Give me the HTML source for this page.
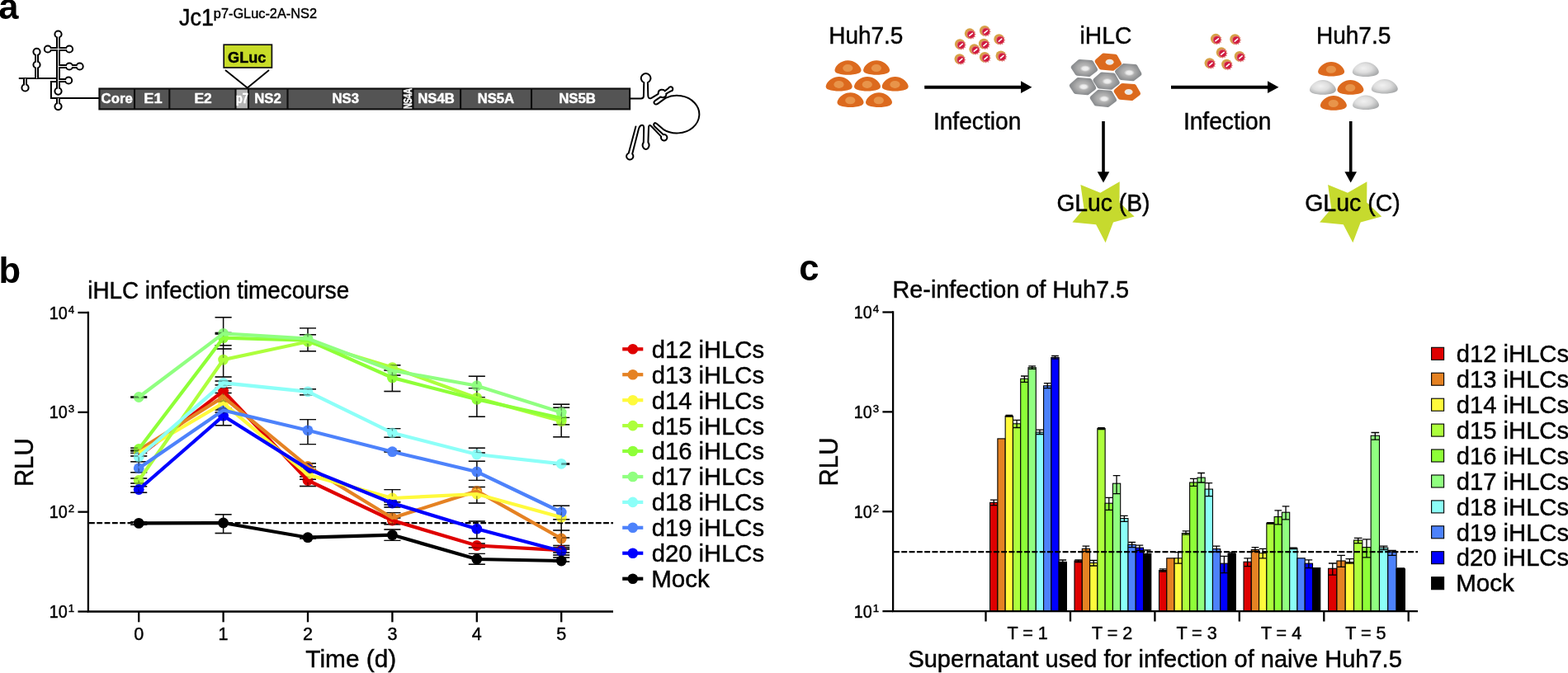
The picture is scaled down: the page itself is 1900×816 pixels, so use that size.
<!DOCTYPE html>
<html lang="en"><head><meta charset="utf-8"><title>Figure</title>
<style>html,body{margin:0;padding:0;background:#fff;overflow:hidden}svg{display:block}text{stroke:#000;stroke-width:0.45px}.w text,text.w{stroke:#fff}</style>
</head><body>
<svg width="1900" height="816" viewBox="0 0 1900 816" font-family='&quot;Liberation Sans&quot;, sans-serif'>
<defs>
<radialGradient id="gGray" cx="0.42" cy="0.42" r="0.62">
<stop offset="0" stop-color="#f1f1f1"/><stop offset="0.5" stop-color="#dedede"/><stop offset="1" stop-color="#a9abac"/>
</radialGradient>
<radialGradient id="gHex" gradientUnits="userSpaceOnUse" cx="0" cy="0" r="17" gradientTransform="scale(1,0.72)">
<stop offset="0" stop-color="#c4c4c4"/><stop offset="0.45" stop-color="#adadad"/><stop offset="0.8" stop-color="#8e9092"/><stop offset="1" stop-color="#84878a"/>
</radialGradient>
<radialGradient id="gNuc" cx="0.5" cy="0.5" r="0.5">
<stop offset="0" stop-color="#f2f2f2"/><stop offset="0.55" stop-color="#ececec" stop-opacity="0.95"/><stop offset="1" stop-color="#dcdcdc" stop-opacity="0"/>
</radialGradient>
<path id="dome" d="M0,-8.8 C7,-8.8 13.6,-4.2 15.6,1.2 C16.6,3.8 15.8,5.6 13,6.8 C9,8.3 4,8.8 0,8.8 C-4,8.8 -9,8.3 -13,6.8 C-15.8,5.6 -16.6,3.8 -15.6,1.2 C-13.6,-4.2 -7,-8.8 0,-8.8 Z"/>
<path id="hex" d="M-13.5,-0.9 L-5.6,-7.9 L8.6,-6.8 L13.5,1.9 L5.6,7.9 L-8.6,6.6 Z" stroke-width="5.4" stroke-linejoin="round"/>
<g id="ocell"><use href="#dome" fill="#dc6a1e"/><ellipse cx="-0.2" cy="0.6" rx="6.1" ry="4.5" fill="#e8944a"/></g>
<g id="gcell"><use href="#dome" fill="url(#gGray)"/></g>
<g id="ohex"><use href="#hex" fill="#dc6a1e" stroke="#dc6a1e"/><ellipse cx="1.8" cy="0" rx="5" ry="3.5" fill="#f6e6d6"/><ellipse cx="1.8" cy="0" rx="3.7" ry="2.4" fill="#e6e8ec"/></g>
<g id="ghex"><use href="#hex" fill="url(#gHex)" stroke="url(#gHex)"/><ellipse cx="1.2" cy="0.6" rx="6.6" ry="4" fill="url(#gNuc)"/></g>
<g id="vir"><circle cx="-0.6" cy="-0.5" r="6.3" fill="#d6a446"/><polygon points="7.2,0.7 5.2,1.8 6.4,3.8 4.0,3.8 4.1,6.2 2.0,5.0 0.9,7.0 -0.2,5.0 -2.2,6.2 -2.2,3.8 -4.6,3.8 -3.4,1.8 -5.4,0.7 -3.4,-0.4 -4.6,-2.4 -2.2,-2.4 -2.3,-4.8 -0.2,-3.6 0.9,-5.6 2.0,-3.6 4.1,-4.8 4.0,-2.4 6.4,-2.5 5.2,-0.4" fill="#df6f74"/><circle cx="0.9" cy="0.7" r="4.1" fill="#d01a40"/><path d="M-0.9,2.1 L2.6,-0.8" stroke="#fff" stroke-width="1.6" stroke-linecap="round"/></g>
</defs>
<rect width="1900" height="816" fill="#fff"/>
<g font-weight="bold" font-size="43.5px" fill="#000" style="stroke-width:0">
<text x="-1.8" y="23.3" style="stroke-width:0">a</text><text x="-1.6" y="343.3" style="stroke-width:0">b</text><text x="968.2" y="339.7" style="stroke-width:0">c</text></g>
<g id="genome">
<text x="216.98" y="31.0" font-size="29.0px" textLength="41.94" lengthAdjust="spacingAndGlyphs">Jc1</text>
<text x="258.85" y="21.7" font-size="17.0px" textLength="125.17" lengthAdjust="spacingAndGlyphs">p7-GLuc-2A-NS2</text>
<g>
<path d="M22.8,95.1 H70.3 M61.9,98 V119 H120 M60.9,99 H70 " fill="none" stroke="#000" stroke-width="2"/>
<path d="M70.5,41.5 V110.6 M70.5,119 V129.1 M57.9,59.5 H84 M70.5,80.5 H96.6 M70.5,97.5 H83.1 M44.5,62.8 V95.1 M30.5,95.1 V106.4" fill="none" stroke="#000" stroke-width="5"/>
<circle cx="70.5" cy="41.5" r="4.1" fill="#fff" stroke="#000" stroke-width="2"/>
<circle cx="57.9" cy="59.5" r="4.1" fill="#fff" stroke="#000" stroke-width="2"/>
<circle cx="84" cy="59.5" r="4.1" fill="#fff" stroke="#000" stroke-width="2"/>
<circle cx="84" cy="80.5" r="4.1" fill="#fff" stroke="#000" stroke-width="2"/>
<circle cx="96.6" cy="80.5" r="4.1" fill="#fff" stroke="#000" stroke-width="2"/>
<circle cx="83.1" cy="97.5" r="4.1" fill="#fff" stroke="#000" stroke-width="2"/>
<circle cx="44.5" cy="62.8" r="4.1" fill="#fff" stroke="#000" stroke-width="2"/>
<circle cx="44.5" cy="78.5" r="4.1" fill="#fff" stroke="#000" stroke-width="2"/>
<circle cx="30.5" cy="106.4" r="4.1" fill="#fff" stroke="#000" stroke-width="2"/>
<circle cx="70.5" cy="110.6" r="4.1" fill="#fff" stroke="#000" stroke-width="2"/>
<circle cx="70.5" cy="129.1" r="4.1" fill="#fff" stroke="#000" stroke-width="2"/>
<path d="M70.5,41.5 V110.6 M70.5,119 V129.1 M57.9,59.5 H84 M70.5,80.5 H96.6 M70.5,97.5 H83.1 M44.5,62.8 V95.1 M30.5,95.1 V106.4" fill="none" stroke="#fff" stroke-width="1"/>
</g>
<rect x="120.4" y="107.5" width="642.7" height="24.900000000000006" fill="#545454"/>
<rect x="285.5" y="107.5" width="15.5" height="24.900000000000006" fill="#b4b4b4"/>
<rect x="488.4" y="107.5" width="12.1" height="24.900000000000006" fill="#2a2a2a"/>
<g fill="none" stroke="#0c0c0c" stroke-width="2.1">
<rect x="120.4" y="107.5" width="642.7" height="24.900000000000006"/>
<path d="M163.0,107.5 V132.4 M205.3,107.5 V132.4 M285.5,107.5 V132.4 M301.0,107.5 V132.4 M348.5,107.5 V132.4 M488.4,107.5 V132.4 M500.5,107.5 V132.4 M558.1,107.5 V132.4 M644.0,107.5 V132.4"/>
</g>
<g fill="#fff" class="w">
<text x="122.61" y="125.0" font-size="17.4px" textLength="38.16" lengthAdjust="spacingAndGlyphs" font-weight="bold">Core</text>
<text x="174.28" y="125.0" font-size="17.4px" textLength="22.22" lengthAdjust="spacingAndGlyphs" font-weight="bold">E1</text>
<text x="235.44" y="125.0" font-size="17.4px" textLength="21.26" lengthAdjust="spacingAndGlyphs" font-weight="bold">E2</text>
<text x="286.06" y="125.0" font-size="17.4px" textLength="14.79" lengthAdjust="spacingAndGlyphs" font-weight="bold">p7</text>
<text x="308.28" y="125.0" font-size="17.4px" textLength="32.49" lengthAdjust="spacingAndGlyphs" font-weight="bold">NS2</text>
<text x="402.48" y="125.0" font-size="17.4px" textLength="32.52" lengthAdjust="spacingAndGlyphs" font-weight="bold">NS3</text>
<text x="506.28" y="125.0" font-size="17.4px" textLength="44.47" lengthAdjust="spacingAndGlyphs" font-weight="bold">NS4B</text>
<text x="578.69" y="125.0" font-size="17.4px" textLength="44.35" lengthAdjust="spacingAndGlyphs" font-weight="bold">NS5A</text>
<text x="677.28" y="125.0" font-size="17.4px" textLength="44.68" lengthAdjust="spacingAndGlyphs" font-weight="bold">NS5B</text>
</g>
<text transform="translate(499.4,132.0) rotate(-90)" class="w" font-weight="bold" font-size="14.2px" fill="#fff" textLength="25" lengthAdjust="spacingAndGlyphs">NS4A</text>
<path d="M273,85 L299.8,106.6 L326,85" fill="none" stroke="#000" stroke-width="1.9"/>
<rect x="271.2" y="54.2" width="58.2" height="27.8" fill="#c8dc28" stroke="#111" stroke-width="1.7"/>
<text x="276.06" y="75.9" font-size="19.0px" textLength="46.27" lengthAdjust="spacingAndGlyphs" font-weight="bold">GLuc</text>
<path d="M764,119.5 H776.6 Q779.9,119.5 779.9,116.4 L780.3,100.2 A5.8,5.8 0 1 1 784.9,100.2 L785.3,116 Q785.5,120.6 789.4,118.8 L797.6,113.8 Q797.4,109.6 801,108.8 Q804.6,108.2 805.6,110.4 L810,107 A2.7,2.7 0 1 1 812.6,110.6 L807.2,113.6 Q808,116.6 805,117.8 Q802.4,118.8 800.6,117.4 L794.4,121.6 Q791.4,123.8 793,125.6 Q794.8,127.4 797.6,125.4 L806.5,118.9 A27.2,22.8 0 1 1 803.7,156.8 L796.4,150.4 Q794,148.2 792.6,149.8 Q791.4,151.4 793.4,153.6 L803.8,163.2 A3.7,3.7 0 1 1 801.2,165.6 L789.2,153 Q786.6,150.6 786,154 L785.4,172.6 A3.8,5 0 1 1 779.8,172.6 L780.2,154.6 Q779.8,150.8 776.8,152 Q774.8,153 774,156 L766.2,186.6 A4.1,4.1 0 1 1 761.8,185.6 L770.4,153.5" fill="none" stroke="#000" stroke-width="2" stroke-linejoin="round" stroke-linecap="round"/>
</g>
<g id="scheme" font-size="28px">
<text x="1004.31" y="52.8" font-size="29.4px" textLength="90.06" lengthAdjust="spacingAndGlyphs">Huh7.5</text>
<text x="1308.61" y="52.8" font-size="29.4px" textLength="62.66" lengthAdjust="spacingAndGlyphs">iHLC</text>
<text x="1594.90" y="52.8" font-size="29.4px" textLength="90.48" lengthAdjust="spacingAndGlyphs">Huh7.5</text>
<text x="1130.90" y="157.0" font-size="29.4px" textLength="106.43" lengthAdjust="spacingAndGlyphs">Infection</text>
<text x="1433.90" y="157.0" font-size="29.4px" textLength="106.43" lengthAdjust="spacingAndGlyphs">Infection</text>
<use href="#ocell" x="1027.5" y="82"/>
<use href="#ocell" x="1062.1" y="82"/>
<use href="#ocell" x="1016.7" y="101.8"/>
<use href="#ocell" x="1051" y="101.8"/>
<use href="#ocell" x="1084.7" y="101.8"/>
<use href="#ocell" x="1030.5" y="121.1"/>
<use href="#ocell" x="1065" y="121.1"/>
<use href="#ocell" x="1613.1" y="83.7"/>
<use href="#gcell" x="1654.8" y="84.1"/>
<use href="#gcell" x="1602.9" y="105.9"/>
<use href="#ocell" x="1636.4" y="105.9"/>
<use href="#gcell" x="1677.8" y="104.8"/>
<use href="#ocell" x="1615.9" y="124.9"/>
<use href="#gcell" x="1655" y="124.3"/>
<use href="#ghex" x="1313.9" y="82.5"/>
<use href="#ghex" x="1367.2" y="87.6"/>
<use href="#ghex" x="1312" y="104.6"/>
<use href="#ghex" x="1336.9" y="119.3"/>
<use href="#ghex" x="1340.6" y="98.1"/>
<use href="#ohex" x="1342.8" y="75.2"/>
<use href="#ohex" x="1365.8" y="111.5"/>
<use href="#vir" x="1175.7" y="41.1"/>
<use href="#vir" x="1193.8" y="37.8"/>
<use href="#vir" x="1211.2" y="48"/>
<use href="#vir" x="1163.8" y="54"/>
<use href="#vir" x="1181.2" y="60.1"/>
<use href="#vir" x="1192.8" y="53.5"/>
<use href="#vir" x="1163.4" y="72"/>
<use href="#vir" x="1193.8" y="69.7"/>
<use href="#vir" x="1213.4" y="68.2"/>
<use href="#vir" x="1473.8" y="47.6"/>
<use href="#vir" x="1497.1" y="48"/>
<use href="#vir" x="1480.6" y="64.1"/>
<use href="#vir" x="1502.6" y="68.7"/>
<use href="#vir" x="1466.4" y="77"/>
<use href="#vir" x="1487" y="78.5"/>
<path d="M1120.2,105.7 H1238" stroke="#000" stroke-width="4" fill="none"/><path d="M1237,98.3 L1250.4,105.7 L1237,113.1 Z" fill="#000"/>
<path d="M1419,105.7 H1537" stroke="#000" stroke-width="4" fill="none"/><path d="M1536,98.3 L1549.4,105.7 L1536,113.1 Z" fill="#000"/>
<path d="M1337,147 V209" stroke="#000" stroke-width="3.6" fill="none"/><path d="M1329.7,208.3 L1344.3,208.3 L1337,221.4 Z" fill="#000"/>
<path d="M1636.7,147 V209" stroke="#000" stroke-width="3.6" fill="none"/><path d="M1629.4,208.3 L1644,208.3 L1636.7,221.4 Z" fill="#000"/>
<polygon points="1309.4,224 1333.3,233.8 1356.7,220.2 1356.5,245.5 1374.6,262.5 1349,269.6 1339.6,294.2 1328.1,272.3 1299.4,269.6 1313.5,253" fill="#c6da2e"/>
<polygon points="1609.1,224 1633.0,233.8 1656.4,220.2 1656.2,245.5 1674.3,262.5 1648.7,269.6 1639.3,294.2 1627.8,272.3 1599.1,269.6 1613.2,253" fill="#c6da2e"/>
<text x="1280.38" y="256.3" font-size="29.4px" textLength="113.07" lengthAdjust="spacingAndGlyphs">GLuc (B)</text>
<text x="1581.17" y="256.3" font-size="29.4px" textLength="115.60" lengthAdjust="spacingAndGlyphs">GLuc (C)</text>
</g>
<g id="panelb">
<text x="106.34" y="362.0" font-size="29.4px" textLength="316.90" lengthAdjust="spacingAndGlyphs">iHLC infection timecourse</text>
<text transform="translate(39.8,590.11) rotate(-90)" font-size="30.6px" textLength="58.78" lengthAdjust="spacingAndGlyphs">RLU</text>
<text x="370.34" y="809.0" font-size="30.2px" textLength="109.89" lengthAdjust="spacingAndGlyphs">Time (d)</text>
<g stroke="#000" stroke-width="2.3" fill="none">
<path d="M106.9,377.85 V741.5 H743"/>
<path d="M94.4,379.0 H106.9"/>
<path d="M94.4,499.83 H106.9"/>
<path d="M94.4,620.67 H106.9"/>
<path d="M94.4,741.5 H106.9"/>
<path d="M168.2,741.5 V754.3"/>
<path d="M270.6,741.5 V754.3"/>
<path d="M373.0,741.5 V754.3"/>
<path d="M475.4,741.5 V754.3"/>
<path d="M577.8,741.5 V754.3"/>
<path d="M680.2,741.5 V754.3"/>
</g>
<text x="59.70" y="386.6" font-size="22.0px" textLength="21.98" lengthAdjust="spacingAndGlyphs">10</text>
<text x="82.69999999999999" y="379.6" font-size="13.2px">4</text>
<text x="59.70" y="507.4" font-size="22.0px" textLength="21.98" lengthAdjust="spacingAndGlyphs">10</text>
<text x="82.69999999999999" y="500.4" font-size="13.2px">3</text>
<text x="59.70" y="628.3" font-size="22.0px" textLength="21.98" lengthAdjust="spacingAndGlyphs">10</text>
<text x="82.69999999999999" y="621.3" font-size="13.2px">2</text>
<text x="59.70" y="749.1" font-size="22.0px" textLength="21.98" lengthAdjust="spacingAndGlyphs">10</text>
<text x="82.69999999999999" y="742.1" font-size="13.2px">1</text>
<g font-size="21.5px" text-anchor="middle">
<text x="168.2" y="775.9">0</text>
<text x="270.6" y="775.9">1</text>
<text x="373.0" y="775.9">2</text>
<text x="475.4" y="775.9">3</text>
<text x="577.8" y="775.9">4</text>
<text x="680.2" y="775.9">5</text>
</g>
<path d="M108,634.1 H743" stroke="#000" stroke-width="2.1" stroke-dasharray="6.8 2.5" fill="none"/>
<path d="M168.2,545.7 V559.7 M158.2,545.7 H178.2 M158.2,559.7 H178.2 M270.6,470.4 V476.5 M260.6,470.4 H280.6 M260.6,476.5 H280.6 M373.0,581.2 V589.5 M363.0,581.2 H383.0 M363.0,589.5 H383.0 M475.4,628 V635.8 M465.4,628 H485.4 M465.4,635.8 H485.4 M577.8,659 V664 M567.8,659 H587.8 M567.8,664 H587.8 M680.2,661.5 V673 M670.2,661.5 H690.2 M670.2,673 H690.2 M168.2,543.3 V549.4 M158.2,543.3 H178.2 M158.2,549.4 H178.2 M270.6,476.5 V487 M260.6,476.5 H280.6 M260.6,487 H280.6 M373.0,561.7 V569 M363.0,561.7 H383.0 M363.0,569 H383.0 M475.4,621.6 V635.8 M465.4,621.6 H485.4 M465.4,635.8 H485.4 M577.8,590.5 V600 M567.8,590.5 H587.8 M567.8,600 H587.8 M680.2,643 V666 M670.2,643 H690.2 M670.2,666 H690.2 M168.2,545.7 V553 M158.2,545.7 H178.2 M158.2,553 H178.2 M270.6,486 V495 M260.6,486 H280.6 M260.6,495 H280.6 M373.0,573 V578 M363.0,573 H383.0 M363.0,578 H383.0 M475.4,593.6 V615 M465.4,593.6 H485.4 M465.4,615 H485.4 M577.8,590.5 V610 M567.8,590.5 H587.8 M567.8,610 H587.8 M680.2,613.3 V652 M670.2,613.3 H690.2 M670.2,652 H690.2 M168.2,580 V586 M158.2,580 H178.2 M158.2,586 H178.2 M270.6,384.7 V457 M260.6,384.7 H280.6 M260.6,457 H280.6 M373.0,405.7 V425.8 M363.0,405.7 H383.0 M363.0,425.8 H383.0 M475.4,442.7 V449 M465.4,442.7 H485.4 M465.4,449 H485.4 M577.8,470.6 V505.2 M567.8,470.6 H587.8 M567.8,505.2 H587.8 M680.2,506.4 V514.7 M670.2,506.4 H690.2 M670.2,514.7 H690.2 M168.2,543.3 V547 M158.2,543.3 H178.2 M158.2,547 H178.2 M270.6,405 V418.7 M260.6,405 H280.6 M260.6,418.7 H280.6 M373.0,397.9 V425.8 M363.0,397.9 H383.0 M363.0,425.8 H383.0 M475.4,442.7 V474.5 M465.4,442.7 H485.4 M465.4,474.5 H485.4 M577.8,470.6 V505.2 M567.8,470.6 H587.8 M567.8,505.2 H587.8 M680.2,494.2 V529.7 M670.2,494.2 H690.2 M670.2,529.7 H690.2 M168.2,481 V482 M158.2,481 H178.2 M158.2,482 H178.2 M270.6,403.5 V423 M260.6,403.5 H280.6 M260.6,423 H280.6 M373.0,405.7 V416 M363.0,405.7 H383.0 M363.0,416 H383.0 M475.4,442.7 V455 M465.4,442.7 H485.4 M465.4,455 H485.4 M577.8,456.2 V481.6 M567.8,456.2 H587.8 M567.8,481.6 H587.8 M680.2,490.2 V514.7 M670.2,490.2 H690.2 M670.2,514.7 H690.2 M168.2,549.4 V559.7 M158.2,549.4 H178.2 M158.2,559.7 H178.2 M270.6,462 V466.7 M260.6,462 H280.6 M260.6,466.7 H280.6 M373.0,471.8 V478.7 M363.0,471.8 H383.0 M363.0,478.7 H383.0 M475.4,519.6 V530.2 M465.4,519.6 H485.4 M465.4,530.2 H485.4 M577.8,543.2 V549 M567.8,543.2 H587.8 M567.8,549 H587.8 M680.2,562 V563 M670.2,562 H690.2 M670.2,563 H690.2 M168.2,559.7 V572.7 M158.2,559.7 H178.2 M158.2,572.7 H178.2 M270.6,495 V500 M260.6,495 H280.6 M260.6,500 H280.6 M373.0,508.6 V538.6 M363.0,508.6 H383.0 M363.0,538.6 H383.0 M475.4,547 V548 M465.4,547 H485.4 M465.4,548 H485.4 M577.8,559.3 V582.4 M567.8,559.3 H587.8 M567.8,582.4 H587.8 M680.2,613.3 V629.7 M670.2,613.3 H690.2 M670.2,629.7 H690.2 M168.2,589.8 V597.2 M158.2,589.8 H178.2 M158.2,597.2 H178.2 M270.6,497 V515.7 M260.6,497 H280.6 M260.6,515.7 H280.6 M373.0,566 V571 M363.0,566 H383.0 M363.0,571 H383.0 M475.4,608.8 V612 M465.4,608.8 H485.4 M465.4,612 H485.4 M577.8,632 V653 M567.8,632 H587.8 M567.8,653 H587.8 M680.2,664 V670 M670.2,664 H690.2 M670.2,670 H690.2 M168.2,632.7 V636.3 M158.2,632.7 H178.2 M158.2,636.3 H178.2 M270.6,623.7 V646.5 M260.6,623.7 H280.6 M260.6,646.5 H280.6 M373.0,650.5 V653 M363.0,650.5 H383.0 M363.0,653 H383.0 M475.4,642 V655.4 M465.4,642 H485.4 M465.4,655.4 H485.4 M577.8,671.4 V684.3 M567.8,671.4 H587.8 M567.8,684.3 H587.8 M680.2,676 V681 M670.2,676 H690.2 M670.2,681 H690.2" fill="none" stroke="#111" stroke-width="1.4"/>
<g>
<circle cx="168.2" cy="553" r="6.4" fill="#df0000"/>
<circle cx="270.6" cy="474.1" r="6.4" fill="#df0000"/>
<circle cx="373.0" cy="582.5" r="6.4" fill="#df0000"/>
<circle cx="475.4" cy="631" r="6.4" fill="#df0000"/>
<circle cx="577.8" cy="661.5" r="6.4" fill="#df0000"/>
<circle cx="680.2" cy="667.2" r="6.4" fill="#df0000"/>
<circle cx="168.2" cy="545.7" r="6.4" fill="#e58223"/>
<circle cx="270.6" cy="481.4" r="6.4" fill="#e58223"/>
<circle cx="373.0" cy="565.5" r="6.4" fill="#e58223"/>
<circle cx="475.4" cy="628" r="6.4" fill="#e58223"/>
<circle cx="577.8" cy="595.4" r="6.4" fill="#e58223"/>
<circle cx="680.2" cy="653" r="6.4" fill="#e58223"/>
<circle cx="168.2" cy="549" r="6.4" fill="#fffa3c"/>
<circle cx="270.6" cy="488.8" r="6.4" fill="#fffa3c"/>
<circle cx="373.0" cy="575.5" r="6.4" fill="#fffa3c"/>
<circle cx="475.4" cy="604" r="6.4" fill="#fffa3c"/>
<circle cx="577.8" cy="599" r="6.4" fill="#fffa3c"/>
<circle cx="680.2" cy="627.2" r="6.4" fill="#fffa3c"/>
<circle cx="168.2" cy="582.5" r="6.4" fill="#adff3c"/>
<circle cx="270.6" cy="436.1" r="6.4" fill="#adff3c"/>
<circle cx="373.0" cy="414.3" r="6.4" fill="#adff3c"/>
<circle cx="475.4" cy="445.6" r="6.4" fill="#adff3c"/>
<circle cx="577.8" cy="482.4" r="6.4" fill="#adff3c"/>
<circle cx="680.2" cy="510.6" r="6.4" fill="#adff3c"/>
<circle cx="168.2" cy="544.5" r="6.4" fill="#8eff38"/>
<circle cx="270.6" cy="409.7" r="6.4" fill="#8eff38"/>
<circle cx="373.0" cy="412.6" r="6.4" fill="#8eff38"/>
<circle cx="475.4" cy="457.9" r="6.4" fill="#8eff38"/>
<circle cx="577.8" cy="484.3" r="6.4" fill="#8eff38"/>
<circle cx="680.2" cy="507" r="6.4" fill="#8eff38"/>
<circle cx="168.2" cy="481.5" r="6.4" fill="#90ff80"/>
<circle cx="270.6" cy="404.3" r="6.4" fill="#90ff80"/>
<circle cx="373.0" cy="410.6" r="6.4" fill="#90ff80"/>
<circle cx="475.4" cy="449.3" r="6.4" fill="#90ff80"/>
<circle cx="577.8" cy="467.7" r="6.4" fill="#90ff80"/>
<circle cx="680.2" cy="500" r="6.4" fill="#90ff80"/>
<circle cx="168.2" cy="554" r="6.4" fill="#8cfff8"/>
<circle cx="270.6" cy="464.3" r="6.4" fill="#8cfff8"/>
<circle cx="373.0" cy="474.8" r="6.4" fill="#8cfff8"/>
<circle cx="475.4" cy="524.8" r="6.4" fill="#8cfff8"/>
<circle cx="577.8" cy="551" r="6.4" fill="#8cfff8"/>
<circle cx="680.2" cy="562.3" r="6.4" fill="#8cfff8"/>
<circle cx="168.2" cy="567.8" r="6.4" fill="#4d82fb"/>
<circle cx="270.6" cy="497.4" r="6.4" fill="#4d82fb"/>
<circle cx="373.0" cy="521.8" r="6.4" fill="#4d82fb"/>
<circle cx="475.4" cy="547.7" r="6.4" fill="#4d82fb"/>
<circle cx="577.8" cy="572" r="6.4" fill="#4d82fb"/>
<circle cx="680.2" cy="621" r="6.4" fill="#4d82fb"/>
<circle cx="168.2" cy="593.5" r="6.4" fill="#0000ff"/>
<circle cx="270.6" cy="504.2" r="6.4" fill="#0000ff"/>
<circle cx="373.0" cy="568.6" r="6.4" fill="#0000ff"/>
<circle cx="475.4" cy="610" r="6.4" fill="#0000ff"/>
<circle cx="577.8" cy="641.2" r="6.4" fill="#0000ff"/>
<circle cx="680.2" cy="668.2" r="6.4" fill="#0000ff"/>
<circle cx="168.2" cy="634.4" r="6.4" fill="#000000"/>
<circle cx="270.6" cy="634" r="6.4" fill="#000000"/>
<circle cx="373.0" cy="651.7" r="6.4" fill="#000000"/>
<circle cx="475.4" cy="648.6" r="6.4" fill="#000000"/>
<circle cx="577.8" cy="678" r="6.4" fill="#000000"/>
<circle cx="680.2" cy="680" r="6.4" fill="#000000"/>
</g>
<path d="M168.2,545.7 V559.7 M158.2,545.7 H178.2 M158.2,559.7 H178.2 M270.6,470.4 V476.5 M260.6,470.4 H280.6 M260.6,476.5 H280.6 M373.0,581.2 V589.5 M363.0,581.2 H383.0 M363.0,589.5 H383.0 M475.4,628 V635.8 M465.4,628 H485.4 M465.4,635.8 H485.4 M577.8,659 V664 M567.8,659 H587.8 M567.8,664 H587.8 M680.2,661.5 V673 M670.2,661.5 H690.2 M670.2,673 H690.2 M168.2,543.3 V549.4 M158.2,543.3 H178.2 M158.2,549.4 H178.2 M270.6,476.5 V487 M260.6,476.5 H280.6 M260.6,487 H280.6 M373.0,561.7 V569 M363.0,561.7 H383.0 M363.0,569 H383.0 M475.4,621.6 V635.8 M465.4,621.6 H485.4 M465.4,635.8 H485.4 M577.8,590.5 V600 M567.8,590.5 H587.8 M567.8,600 H587.8 M680.2,643 V666 M670.2,643 H690.2 M670.2,666 H690.2 M168.2,545.7 V553 M158.2,545.7 H178.2 M158.2,553 H178.2 M270.6,486 V495 M260.6,486 H280.6 M260.6,495 H280.6 M373.0,573 V578 M363.0,573 H383.0 M363.0,578 H383.0 M475.4,593.6 V615 M465.4,593.6 H485.4 M465.4,615 H485.4 M577.8,590.5 V610 M567.8,590.5 H587.8 M567.8,610 H587.8 M680.2,613.3 V652 M670.2,613.3 H690.2 M670.2,652 H690.2 M168.2,580 V586 M158.2,580 H178.2 M158.2,586 H178.2 M270.6,384.7 V457 M260.6,384.7 H280.6 M260.6,457 H280.6 M373.0,405.7 V425.8 M363.0,405.7 H383.0 M363.0,425.8 H383.0 M475.4,442.7 V449 M465.4,442.7 H485.4 M465.4,449 H485.4 M577.8,470.6 V505.2 M567.8,470.6 H587.8 M567.8,505.2 H587.8 M680.2,506.4 V514.7 M670.2,506.4 H690.2 M670.2,514.7 H690.2 M168.2,543.3 V547 M158.2,543.3 H178.2 M158.2,547 H178.2 M270.6,405 V418.7 M260.6,405 H280.6 M260.6,418.7 H280.6 M373.0,397.9 V425.8 M363.0,397.9 H383.0 M363.0,425.8 H383.0 M475.4,442.7 V474.5 M465.4,442.7 H485.4 M465.4,474.5 H485.4 M577.8,470.6 V505.2 M567.8,470.6 H587.8 M567.8,505.2 H587.8 M680.2,494.2 V529.7 M670.2,494.2 H690.2 M670.2,529.7 H690.2 M168.2,481 V482 M158.2,481 H178.2 M158.2,482 H178.2 M270.6,403.5 V423 M260.6,403.5 H280.6 M260.6,423 H280.6 M373.0,405.7 V416 M363.0,405.7 H383.0 M363.0,416 H383.0 M475.4,442.7 V455 M465.4,442.7 H485.4 M465.4,455 H485.4 M577.8,456.2 V481.6 M567.8,456.2 H587.8 M567.8,481.6 H587.8 M680.2,490.2 V514.7 M670.2,490.2 H690.2 M670.2,514.7 H690.2 M168.2,549.4 V559.7 M158.2,549.4 H178.2 M158.2,559.7 H178.2 M270.6,462 V466.7 M260.6,462 H280.6 M260.6,466.7 H280.6 M373.0,471.8 V478.7 M363.0,471.8 H383.0 M363.0,478.7 H383.0 M475.4,519.6 V530.2 M465.4,519.6 H485.4 M465.4,530.2 H485.4 M577.8,543.2 V549 M567.8,543.2 H587.8 M567.8,549 H587.8 M680.2,562 V563 M670.2,562 H690.2 M670.2,563 H690.2 M168.2,559.7 V572.7 M158.2,559.7 H178.2 M158.2,572.7 H178.2 M270.6,495 V500 M260.6,495 H280.6 M260.6,500 H280.6 M373.0,508.6 V538.6 M363.0,508.6 H383.0 M363.0,538.6 H383.0 M475.4,547 V548 M465.4,547 H485.4 M465.4,548 H485.4 M577.8,559.3 V582.4 M567.8,559.3 H587.8 M567.8,582.4 H587.8 M680.2,613.3 V629.7 M670.2,613.3 H690.2 M670.2,629.7 H690.2 M168.2,589.8 V597.2 M158.2,589.8 H178.2 M158.2,597.2 H178.2 M270.6,497 V515.7 M260.6,497 H280.6 M260.6,515.7 H280.6 M373.0,566 V571 M363.0,566 H383.0 M363.0,571 H383.0 M475.4,608.8 V612 M465.4,608.8 H485.4 M465.4,612 H485.4 M577.8,632 V653 M567.8,632 H587.8 M567.8,653 H587.8 M680.2,664 V670 M670.2,664 H690.2 M670.2,670 H690.2 M168.2,632.7 V636.3 M158.2,632.7 H178.2 M158.2,636.3 H178.2 M270.6,623.7 V646.5 M260.6,623.7 H280.6 M260.6,646.5 H280.6 M373.0,650.5 V653 M363.0,650.5 H383.0 M363.0,653 H383.0 M475.4,642 V655.4 M465.4,642 H485.4 M465.4,655.4 H485.4 M577.8,671.4 V684.3 M567.8,671.4 H587.8 M567.8,684.3 H587.8 M680.2,676 V681 M670.2,676 H690.2 M670.2,681 H690.2" fill="none" stroke="#000" stroke-width="1.4" opacity="0.4"/>
<g fill="none" stroke-width="4.2" stroke-linejoin="miter">
<polyline points="168.2,553 270.6,474.1 373.0,582.5 475.4,631 577.8,661.5 680.2,667.2" stroke="#df0000"/>
<polyline points="168.2,545.7 270.6,481.4 373.0,565.5 475.4,628 577.8,595.4 680.2,653" stroke="#e58223"/>
<polyline points="168.2,549 270.6,488.8 373.0,575.5 475.4,604 577.8,599 680.2,627.2" stroke="#fffa3c"/>
<polyline points="168.2,582.5 270.6,436.1 373.0,414.3 475.4,445.6 577.8,482.4 680.2,510.6" stroke="#adff3c"/>
<polyline points="168.2,544.5 270.6,409.7 373.0,412.6 475.4,457.9 577.8,484.3 680.2,507" stroke="#8eff38"/>
<polyline points="168.2,481.5 270.6,404.3 373.0,410.6 475.4,449.3 577.8,467.7 680.2,500" stroke="#90ff80"/>
<polyline points="168.2,554 270.6,464.3 373.0,474.8 475.4,524.8 577.8,551 680.2,562.3" stroke="#8cfff8"/>
<polyline points="168.2,567.8 270.6,497.4 373.0,521.8 475.4,547.7 577.8,572 680.2,621" stroke="#4d82fb"/>
<polyline points="168.2,593.5 270.6,504.2 373.0,568.6 475.4,610 577.8,641.2 680.2,668.2" stroke="#0000ff"/>
<polyline points="168.2,634.4 270.6,634 373.0,651.7 475.4,648.6 577.8,678 680.2,680" stroke="#000000"/>
</g>
<g font-size="28.6px">
<path d="M754.2,423.3 H779.3" stroke="#df0000" stroke-width="4.2"/><circle cx="766.8" cy="423.3" r="6.3" fill="#df0000"/>
<text x="789.77" y="433.7" font-size="29.4px" textLength="136.28" lengthAdjust="spacingAndGlyphs">d12 iHLCs</text>
<path d="M754.2,454.2 H779.3" stroke="#e58223" stroke-width="4.2"/><circle cx="766.8" cy="454.2" r="6.3" fill="#e58223"/>
<text x="789.77" y="464.6" font-size="29.4px" textLength="136.28" lengthAdjust="spacingAndGlyphs">d13 iHLCs</text>
<path d="M754.2,485.2 H779.3" stroke="#fffa3c" stroke-width="4.2"/><circle cx="766.8" cy="485.2" r="6.3" fill="#fffa3c"/>
<text x="789.77" y="495.6" font-size="29.4px" textLength="136.28" lengthAdjust="spacingAndGlyphs">d14 iHLCs</text>
<path d="M754.2,516.1 H779.3" stroke="#adff3c" stroke-width="4.2"/><circle cx="766.8" cy="516.1" r="6.3" fill="#adff3c"/>
<text x="789.77" y="526.5" font-size="29.4px" textLength="136.28" lengthAdjust="spacingAndGlyphs">d15 iHLCs</text>
<path d="M754.2,547.0 H779.3" stroke="#8eff38" stroke-width="4.2"/><circle cx="766.8" cy="547.0" r="6.3" fill="#8eff38"/>
<text x="789.77" y="557.4" font-size="29.4px" textLength="136.28" lengthAdjust="spacingAndGlyphs">d16 iHLCs</text>
<path d="M754.2,578.0 H779.3" stroke="#90ff80" stroke-width="4.2"/><circle cx="766.8" cy="578.0" r="6.3" fill="#90ff80"/>
<text x="789.77" y="588.4" font-size="29.4px" textLength="136.28" lengthAdjust="spacingAndGlyphs">d17 iHLCs</text>
<path d="M754.2,608.9 H779.3" stroke="#8cfff8" stroke-width="4.2"/><circle cx="766.8" cy="608.9" r="6.3" fill="#8cfff8"/>
<text x="789.77" y="619.3" font-size="29.4px" textLength="136.28" lengthAdjust="spacingAndGlyphs">d18 iHLCs</text>
<path d="M754.2,639.8 H779.3" stroke="#4d82fb" stroke-width="4.2"/><circle cx="766.8" cy="639.8" r="6.3" fill="#4d82fb"/>
<text x="789.77" y="650.2" font-size="29.4px" textLength="136.28" lengthAdjust="spacingAndGlyphs">d19 iHLCs</text>
<path d="M754.2,670.7 H779.3" stroke="#0000ff" stroke-width="4.2"/><circle cx="766.8" cy="670.7" r="6.3" fill="#0000ff"/>
<text x="789.77" y="681.1" font-size="29.4px" textLength="136.28" lengthAdjust="spacingAndGlyphs">d20 iHLCs</text>
<path d="M754.2,701.7 H779.3" stroke="#000000" stroke-width="4.2"/><circle cx="766.8" cy="701.7" r="6.3" fill="#000000"/>
<text x="789.18" y="712.1" font-size="29.4px" textLength="70.58" lengthAdjust="spacingAndGlyphs">Mock</text>
</g>
</g>
<g id="panelc">
<text x="1081.54" y="361.1" font-size="29.4px" textLength="286.47" lengthAdjust="spacingAndGlyphs">Re-infection of Huh7.5</text>
<text transform="translate(1015.4,589.41) rotate(-90)" font-size="30.6px" textLength="58.78" lengthAdjust="spacingAndGlyphs">RLU</text>
<text x="1100.38" y="808.6" font-size="29.4px" textLength="598.44" lengthAdjust="spacingAndGlyphs">Supernatant used for infection of naive Huh7.5</text>
<g font-size="21.5px" text-anchor="middle">
<text x="1245.2" y="774.7">T = 1</text>
<text x="1347.6" y="774.7">T = 2</text>
<text x="1450.0" y="774.7">T = 3</text>
<text x="1552.5" y="774.7">T = 4</text>
<text x="1654.9" y="774.7">T = 5</text>
</g>
<g stroke="#000" stroke-width="1.1">
<rect x="1199.6" y="609.3" width="9.28" height="131.8" fill="#df0000"/>
<path d="M1204.24,606.1 V612.7 M1199.9,606.1 H1208.58 M1199.9,612.7 H1208.58" fill="none" stroke-width="1.3"/>
<rect x="1208.88" y="531.9" width="9.28" height="209.2" fill="#e58223"/>
<rect x="1218.16" y="504.5" width="9.28" height="236.6" fill="#fffa3c"/>
<path d="M1222.8,503.3 V505.2 M1218.46,503.3 H1227.14 M1218.46,505.2 H1227.14" fill="none" stroke-width="1.3"/>
<rect x="1227.44" y="513.8" width="9.28" height="227.3" fill="#adff3c"/>
<path d="M1232.08,509.4 V518.5 M1227.74,509.4 H1236.42 M1227.74,518.5 H1236.42" fill="none" stroke-width="1.3"/>
<rect x="1236.72" y="459.2" width="9.28" height="281.9" fill="#8eff38"/>
<path d="M1241.36,456 V463.3 M1237.02,456 H1245.7 M1237.02,463.3 H1245.7" fill="none" stroke-width="1.3"/>
<rect x="1246.0" y="445.7" width="9.28" height="295.4" fill="#90ff80"/>
<path d="M1250.64,443.8 V447.4 M1246.3,443.8 H1254.98 M1246.3,447.4 H1254.98" fill="none" stroke-width="1.3"/>
<rect x="1255.28" y="524.1" width="9.28" height="217.0" fill="#8cfff8"/>
<path d="M1259.92,521.2 V526.5 M1255.58,521.2 H1264.26 M1255.58,526.5 H1264.26" fill="none" stroke-width="1.3"/>
<rect x="1264.56" y="467.8" width="9.28" height="273.3" fill="#4d82fb"/>
<path d="M1269.2,464.6 V470.7 M1264.86,464.6 H1273.54 M1264.86,470.7 H1273.54" fill="none" stroke-width="1.3"/>
<rect x="1273.84" y="433.5" width="9.28" height="307.6" fill="#0000ff"/>
<path d="M1278.48,431.5 V435.2 M1274.14,431.5 H1282.82 M1274.14,435.2 H1282.82" fill="none" stroke-width="1.3"/>
<rect x="1283.12" y="681.4" width="9.28" height="59.7" fill="#000000"/>
<path d="M1287.76,679 V683 M1283.42,679 H1292.1 M1283.42,683 H1292.1" fill="none" stroke-width="1.3"/>
<rect x="1302.0" y="680" width="9.28" height="61.1" fill="#df0000"/>
<path d="M1306.64,679 V681.5 M1302.3,679 H1310.98 M1302.3,681.5 H1310.98" fill="none" stroke-width="1.3"/>
<rect x="1311.28" y="665.3" width="9.28" height="75.8" fill="#e58223"/>
<path d="M1315.92,662.1 V668.5 M1311.58,662.1 H1320.26 M1311.58,668.5 H1320.26" fill="none" stroke-width="1.3"/>
<rect x="1320.56" y="682.5" width="9.28" height="58.6" fill="#fffa3c"/>
<path d="M1325.2,679.5 V686 M1320.86,679.5 H1329.54 M1320.86,686 H1329.54" fill="none" stroke-width="1.3"/>
<rect x="1329.84" y="519.6" width="9.28" height="221.5" fill="#adff3c"/>
<path d="M1334.48,518.6 V520.6 M1330.14,518.6 H1338.82 M1330.14,520.6 H1338.82" fill="none" stroke-width="1.3"/>
<rect x="1339.12" y="610.2" width="9.28" height="130.9" fill="#8eff38"/>
<path d="M1343.76,603.4 V618.3 M1339.42,603.4 H1348.1 M1339.42,618.3 H1348.1" fill="none" stroke-width="1.3"/>
<rect x="1348.4" y="586.2" width="9.28" height="154.9" fill="#90ff80"/>
<path d="M1353.04,576.7 V598.7 M1348.7,576.7 H1357.38 M1348.7,598.7 H1357.38" fill="none" stroke-width="1.3"/>
<rect x="1357.68" y="628.6" width="9.28" height="112.5" fill="#8cfff8"/>
<path d="M1362.32,625.4 V632.3 M1357.98,625.4 H1366.66 M1357.98,632.3 H1366.66" fill="none" stroke-width="1.3"/>
<rect x="1366.96" y="660.4" width="9.28" height="80.7" fill="#4d82fb"/>
<path d="M1371.6,657.5 V663.6 M1367.26,657.5 H1375.94 M1367.26,663.6 H1375.94" fill="none" stroke-width="1.3"/>
<rect x="1376.24" y="664.1" width="9.28" height="77.0" fill="#0000ff"/>
<path d="M1380.88,661.2 V667.3 M1376.54,661.2 H1385.22 M1376.54,667.3 H1385.22" fill="none" stroke-width="1.3"/>
<rect x="1385.52" y="671.4" width="9.28" height="69.7" fill="#000000"/>
<path d="M1390.16,667 V675 M1385.82,667 H1394.5 M1385.82,675 H1394.5" fill="none" stroke-width="1.3"/>
<rect x="1404.5" y="691.5" width="9.28" height="49.6" fill="#df0000"/>
<path d="M1409.14,689.8 V693 M1404.8,689.8 H1413.48 M1404.8,693 H1413.48" fill="none" stroke-width="1.3"/>
<rect x="1413.78" y="676.8" width="9.28" height="64.3" fill="#e58223"/>
<rect x="1423.06" y="676.8" width="9.28" height="64.3" fill="#fffa3c"/>
<path d="M1427.7,669.7 V683.2 M1423.36,669.7 H1432.04 M1423.36,683.2 H1432.04" fill="none" stroke-width="1.3"/>
<rect x="1432.34" y="646.5" width="9.28" height="94.6" fill="#adff3c"/>
<path d="M1436.98,643.8 V648.2 M1432.64,643.8 H1441.32 M1432.64,648.2 H1441.32" fill="none" stroke-width="1.3"/>
<rect x="1441.62" y="585" width="9.28" height="156.1" fill="#8eff38"/>
<path d="M1446.26,580.3 V589.4 M1441.92,580.3 H1450.6 M1441.92,589.4 H1450.6" fill="none" stroke-width="1.3"/>
<rect x="1450.9" y="579.1" width="9.28" height="162.0" fill="#90ff80"/>
<path d="M1455.54,573.5 V585 M1451.2,573.5 H1459.88 M1451.2,585 H1459.88" fill="none" stroke-width="1.3"/>
<rect x="1460.18" y="593.1" width="9.28" height="148.0" fill="#8cfff8"/>
<path d="M1464.82,585.7 V601.6 M1460.48,585.7 H1469.16 M1460.48,601.6 H1469.16" fill="none" stroke-width="1.3"/>
<rect x="1469.46" y="665.6" width="9.28" height="75.5" fill="#4d82fb"/>
<path d="M1474.1,662.1 V669 M1469.76,662.1 H1478.44 M1469.76,669 H1478.44" fill="none" stroke-width="1.3"/>
<rect x="1478.74" y="683.2" width="9.28" height="57.9" fill="#0000ff"/>
<path d="M1483.38,674.4 V694.7 M1479.04,674.4 H1487.72 M1479.04,694.7 H1487.72" fill="none" stroke-width="1.3"/>
<rect x="1488.02" y="671.4" width="9.28" height="69.7" fill="#000000"/>
<path d="M1492.66,670 V672.5 M1488.32,670 H1497.0 M1488.32,672.5 H1497.0" fill="none" stroke-width="1.3"/>
<rect x="1507.0" y="681.2" width="9.28" height="59.9" fill="#df0000"/>
<path d="M1511.64,676.8 V686.6 M1507.3,676.8 H1515.98 M1507.3,686.6 H1515.98" fill="none" stroke-width="1.3"/>
<rect x="1516.28" y="666.5" width="9.28" height="74.6" fill="#e58223"/>
<path d="M1520.92,663.6 V668.5 M1516.58,663.6 H1525.26 M1516.58,668.5 H1525.26" fill="none" stroke-width="1.3"/>
<rect x="1525.56" y="670.7" width="9.28" height="70.4" fill="#fffa3c"/>
<path d="M1530.2,665.3 V676.8 M1525.86,665.3 H1534.54 M1525.86,676.8 H1534.54" fill="none" stroke-width="1.3"/>
<rect x="1534.84" y="634.2" width="9.28" height="106.9" fill="#adff3c"/>
<path d="M1539.48,633.7 V635 M1535.14,633.7 H1543.82 M1535.14,635 H1543.82" fill="none" stroke-width="1.3"/>
<rect x="1544.12" y="626.6" width="9.28" height="114.5" fill="#8eff38"/>
<path d="M1548.76,618.8 V635.9 M1544.42,618.8 H1553.1 M1544.42,635.9 H1553.1" fill="none" stroke-width="1.3"/>
<rect x="1553.4" y="621.2" width="9.28" height="119.9" fill="#90ff80"/>
<path d="M1558.04,613.9 V629.8 M1553.7,613.9 H1562.38 M1553.7,629.8 H1562.38" fill="none" stroke-width="1.3"/>
<rect x="1562.68" y="664.8" width="9.28" height="76.3" fill="#8cfff8"/>
<path d="M1567.32,664.2 V665.5 M1562.98,664.2 H1571.66 M1562.98,665.5 H1571.66" fill="none" stroke-width="1.3"/>
<rect x="1571.96" y="676.8" width="9.28" height="64.3" fill="#4d82fb"/>
<rect x="1581.24" y="683.2" width="9.28" height="57.9" fill="#0000ff"/>
<path d="M1585.88,678.8 V688.6 M1581.54,678.8 H1590.22 M1581.54,688.6 H1590.22" fill="none" stroke-width="1.3"/>
<rect x="1590.52" y="688.6" width="9.28" height="52.5" fill="#000000"/>
<rect x="1609.6" y="689.3" width="10.31" height="51.8" fill="#df0000"/>
<path d="M1614.76,683 V697.2 M1609.9,683 H1619.61 M1609.9,697.2 H1619.61" fill="none" stroke-width="1.3"/>
<rect x="1619.91" y="680" width="10.31" height="61.1" fill="#e58223"/>
<path d="M1625.07,673.4 V687.4 M1620.21,673.4 H1629.92 M1620.21,687.4 H1629.92" fill="none" stroke-width="1.3"/>
<rect x="1630.22" y="681.7" width="10.31" height="59.4" fill="#fffa3c"/>
<path d="M1635.38,677.6 V683 M1630.52,677.6 H1640.23 M1630.52,683 H1640.23" fill="none" stroke-width="1.3"/>
<rect x="1640.53" y="655" width="10.31" height="86.1" fill="#adff3c"/>
<path d="M1645.69,652.3 V658.7 M1640.83,652.3 H1650.54 M1640.83,658.7 H1650.54" fill="none" stroke-width="1.3"/>
<rect x="1650.84" y="663.6" width="10.31" height="77.5" fill="#8eff38"/>
<path d="M1656.0,653.8 V675.9 M1651.14,653.8 H1660.86 M1651.14,675.9 H1660.86" fill="none" stroke-width="1.3"/>
<rect x="1661.16" y="528.2" width="10.31" height="212.9" fill="#90ff80"/>
<path d="M1666.31,524.5 V533.1 M1661.46,524.5 H1671.17 M1661.46,533.1 H1671.17" fill="none" stroke-width="1.3"/>
<rect x="1671.47" y="664.1" width="10.31" height="77.0" fill="#8cfff8"/>
<path d="M1676.62,662.1 V666.5 M1671.77,662.1 H1681.48 M1671.77,666.5 H1681.48" fill="none" stroke-width="1.3"/>
<rect x="1681.78" y="669" width="10.31" height="72.1" fill="#4d82fb"/>
<path d="M1686.93,667.3 V673.4 M1682.08,667.3 H1691.79 M1682.08,673.4 H1691.79" fill="none" stroke-width="1.3"/>
<rect x="1692.09" y="689.8" width="10.31" height="51.3" fill="#000000"/>
<path d="M1697.24,689 V690.5 M1692.39,689 H1702.1 M1692.39,690.5 H1702.1" fill="none" stroke-width="1.3"/>
</g>
<path d="M1083,669.1 H1718" stroke="#000" stroke-width="2.3" stroke-dasharray="6.9 2.4" fill="none"/>
<g stroke="#000" stroke-width="2.3" fill="none">
<path d="M1082.1,377.35 V741.1 H1718"/>
<path d="M1069.4,378.5 H1082.1"/>
<path d="M1069.4,499.37 H1082.1"/>
<path d="M1069.4,620.23 H1082.1"/>
<path d="M1069.4,741.1 H1082.1"/>
<path d="M1194.5,741.1 V753.5"/>
<path d="M1297.0,741.1 V753.5"/>
<path d="M1399.4,741.1 V753.5"/>
<path d="M1501.8,741.1 V753.5"/>
<path d="M1604.3,741.1 V753.5"/>
<path d="M1706.7,741.1 V753.5"/>
</g>
<text x="1034.70" y="386.1" font-size="22.0px" textLength="21.98" lengthAdjust="spacingAndGlyphs">10</text>
<text x="1057.7" y="379.1" font-size="13.2px">4</text>
<text x="1034.70" y="507.0" font-size="22.0px" textLength="21.98" lengthAdjust="spacingAndGlyphs">10</text>
<text x="1057.7" y="500.0" font-size="13.2px">3</text>
<text x="1034.70" y="627.8" font-size="22.0px" textLength="21.98" lengthAdjust="spacingAndGlyphs">10</text>
<text x="1057.7" y="620.8" font-size="13.2px">2</text>
<text x="1034.70" y="748.7" font-size="22.0px" textLength="21.98" lengthAdjust="spacingAndGlyphs">10</text>
<text x="1057.7" y="741.7" font-size="13.2px">1</text>
<g font-size="28.6px">
<rect x="1734.6" y="421.3" width="15" height="15" fill="#df0000" stroke="#000" stroke-width="1.1"/>
<text x="1764.77" y="439.0" font-size="29.4px" textLength="136.28" lengthAdjust="spacingAndGlyphs">d12 iHLCs</text>
<rect x="1734.6" y="452.2" width="15" height="15" fill="#e58223" stroke="#000" stroke-width="1.1"/>
<text x="1764.77" y="469.9" font-size="29.4px" textLength="136.28" lengthAdjust="spacingAndGlyphs">d13 iHLCs</text>
<rect x="1734.6" y="483.2" width="15" height="15" fill="#fffa3c" stroke="#000" stroke-width="1.1"/>
<text x="1764.77" y="500.9" font-size="29.4px" textLength="136.28" lengthAdjust="spacingAndGlyphs">d14 iHLCs</text>
<rect x="1734.6" y="514.1" width="15" height="15" fill="#adff3c" stroke="#000" stroke-width="1.1"/>
<text x="1764.77" y="531.8" font-size="29.4px" textLength="136.28" lengthAdjust="spacingAndGlyphs">d15 iHLCs</text>
<rect x="1734.6" y="545.0" width="15" height="15" fill="#8eff38" stroke="#000" stroke-width="1.1"/>
<text x="1764.77" y="562.7" font-size="29.4px" textLength="136.28" lengthAdjust="spacingAndGlyphs">d16 iHLCs</text>
<rect x="1734.6" y="576.0" width="15" height="15" fill="#90ff80" stroke="#000" stroke-width="1.1"/>
<text x="1764.77" y="593.7" font-size="29.4px" textLength="136.28" lengthAdjust="spacingAndGlyphs">d17 iHLCs</text>
<rect x="1734.6" y="606.9" width="15" height="15" fill="#8cfff8" stroke="#000" stroke-width="1.1"/>
<text x="1764.77" y="624.6" font-size="29.4px" textLength="136.28" lengthAdjust="spacingAndGlyphs">d18 iHLCs</text>
<rect x="1734.6" y="637.8" width="15" height="15" fill="#4d82fb" stroke="#000" stroke-width="1.1"/>
<text x="1764.77" y="655.5" font-size="29.4px" textLength="136.28" lengthAdjust="spacingAndGlyphs">d19 iHLCs</text>
<rect x="1734.6" y="668.7" width="15" height="15" fill="#0000ff" stroke="#000" stroke-width="1.1"/>
<text x="1764.77" y="686.4" font-size="29.4px" textLength="136.28" lengthAdjust="spacingAndGlyphs">d20 iHLCs</text>
<rect x="1734.6" y="699.7" width="15" height="15" fill="#000000" stroke="#000" stroke-width="1.1"/>
<text x="1764.18" y="717.4" font-size="29.4px" textLength="70.58" lengthAdjust="spacingAndGlyphs">Mock</text>
</g>
</g>
</svg>
</body></html>
